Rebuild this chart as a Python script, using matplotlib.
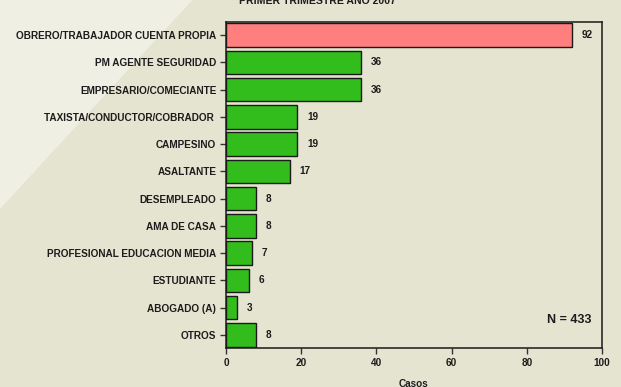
import matplotlib
matplotlib.use('Agg')
import matplotlib.pyplot as plt
from matplotlib.patches import Polygon

# ocupaciones y casos
ocupaciones = ['OBRERO/TRABAJADOR CUENTA PROPIA', 'PM AGENTE SEGURIDAD',
               'EMPRESARIO/COMECIANTE', 'TAXISTA/CONDUCTOR/COBRADOR ',
               'CAMPESINO', 'ASALTANTE', 'DESEMPLEADO', 'AMA DE CASA',
               'PROFESIONAL EDUCACION MEDIA', 'ESTUDIANTE', 'ABOGADO (A)', 'OTROS']
casos = [92, 36, 36, 19, 19, 17, 8, 8, 7, 6, 3, 8]
x_ticks = [0, 20, 40, 60, 80, 100]
titulo = 'PRIMER TRIMESTRE AÑO 2007'
total = 'N = 433'

fondo = '#e5e4d1'
rosa = '#ff7f7f'
verde = '#32bd1c'
texto = '#1c1c1c'

plt.rcParams['font.family'] = ['Liberation Sans', 'DejaVu Sans']
plt.rcParams['font.weight'] = 'bold'
plt.rcParams['font.size'] = 7.2

fig = plt.figure(figsize=(6.21, 3.87), dpi=100, facecolor=fondo)

# franja clara diagonal del fondo
franja = Polygon([(0, 1), (0.31, 1), (0, 0.46), (0, 0.9)],
                 closed=True, transform=fig.transFigure,
                 facecolor='#efefe3', edgecolor='none', zorder=-10)
fig.patches.append(franja)

ax = fig.add_axes([0.3639, 0.0995, 0.6055, 0.8449])
ax.set_facecolor('none')

pos = list(range(len(ocupaciones)))
colores = [rosa] + [verde] * (len(casos) - 1)
ax.barh(pos, casos, height=0.86, color=colores, edgecolor='#1a1a1a', linewidth=1.0)

for p, v in zip(pos, casos):
    ax.annotate(str(v), (v, p), xytext=(7, 0), textcoords='offset points',
                va='center', ha='left', fontweight='bold', color=texto)

ax.set_xlim(0, 100)
ax.set_ylim(11.5, -0.5)
ax.set_yticks(pos)
ax.set_yticklabels(ocupaciones, color=texto)
ax.set_xticks(x_ticks)
ax.set_xticklabels([str(t) for t in x_ticks], color=texto)
ax.tick_params(axis='both', length=4, width=1, color='#333333', pad=3)
ax.set_xlabel('Casos', fontweight='bold', color=texto, labelpad=8)

for s in ax.spines.values():
    s.set_color('#1a1a1a')
    s.set_linewidth(1.1)

ax.text(0.973, 0.087, total, transform=ax.transAxes, ha='right', va='center',
        fontsize=9, fontweight='bold', color=texto)

fig.text(0.512, 0.998, titulo, ha='center', va='center', fontsize=7.6,
         fontweight='bold', color=texto)

fig.savefig('out.png', dpi=100, facecolor=fondo)
